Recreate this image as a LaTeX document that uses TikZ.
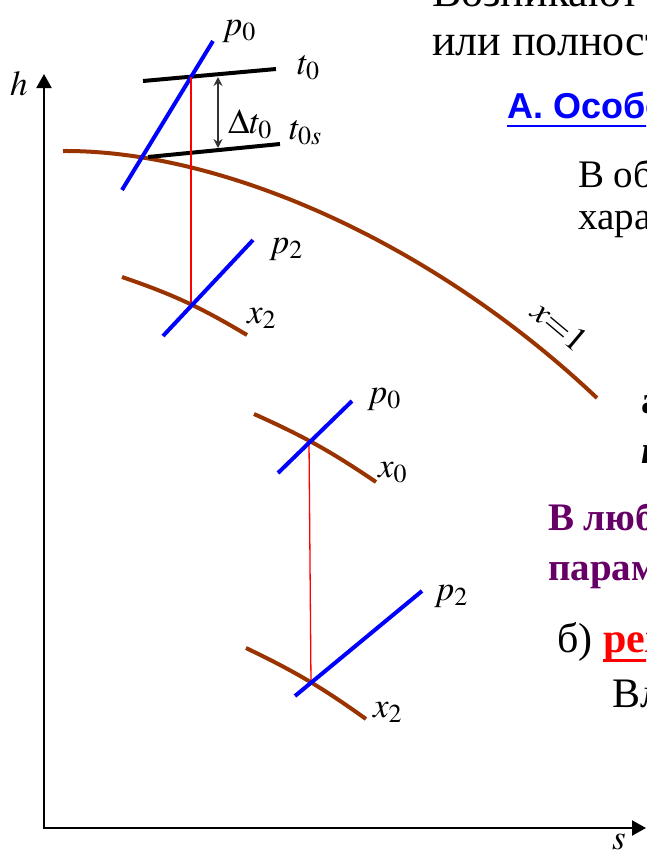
\documentclass[tikz,border=0pt]{standalone}
\usepackage{mathptmx}
\usepackage[no-math]{fontspec}
\setmainfont{Liberation Serif}
\newfontfamily\slidesans{Liberation Sans}
\usetikzlibrary{arrows.meta}
\definecolor{curvebrown}{HTML}{993300}
\definecolor{isobarblue}{HTML}{0000FF}
\definecolor{slidepurple}{HTML}{660066}
\definecolor{slidered}{HTML}{FF0000}

\begin{document}
\begin{tikzpicture}[
    x=1pt, y=-1pt,
    axisline/.style={
        line width=2pt,
        -{Triangle[length=14pt,width=15pt]}
    },
    isobar/.style={line width=4pt, isobarblue},
    quality/.style={line width=4pt, curvebrown},
    isotherm/.style={line width=4pt, black},
    drop/.style={line width=1.3pt, slidered},
    plotlabel/.style={
        inner sep=0pt,
        anchor=base west,
        font=\fontsize{35}{40}\selectfont
    },
    slidetext/.style={
        inner sep=0pt,
        anchor=base west,
        font=\fontsize{39}{44}\selectfont
    },
    slidebold/.style={
        slidetext,
        font=\fontsize{39}{44}\selectfont\bfseries
    }
]
    \useasboundingbox (0,0) rectangle (646,852);
    \clip (0,0) rectangle (646,852);

    % axes
    \coordinate (origin) at (44,829);
    \coordinate (hend) at (44,74);
    \coordinate (send) at (646,828);
    \draw[axisline] (origin) -- (hend);
    \draw[axisline] (43,828) -- (send);
    \node[plotlabel] (hlabel) at (10,95) {$h$};
    \node[plotlabel] (slabel) at (612,849) {$s$};

    % saturation line
    \coordinate (satstart) at (63,151);
    \coordinate (satend) at (597,398);
    \draw[quality] (satstart) .. controls (220,150) and (430,240) .. (satend);
    \node[font=\fontsize{35}{40}\selectfont, rotate=-40, inner sep=0pt]
        (xone) at (560,326) {$x{=}1$};

    % upper state
    \coordinate (t0a) at (143,81);
    \coordinate (t0b) at (276,69);
    \coordinate (t0sa) at (148,157);
    \coordinate (t0sb) at (280,144);
    \coordinate (p0a) at (122,190);
    \coordinate (p0b) at (213,41);
    \draw[isotherm] (t0a) -- (t0b);
    \draw[isotherm] (t0sa) -- (t0sb);
    \draw[isobar] (p0a) -- (p0b);
    \coordinate (dta) at (218,77);
    \coordinate (dtb) at (218,148);
    \draw[line width=1.4pt, black!80,
        {Stealth[length=9pt,width=9pt]}-{Stealth[length=9pt,width=9pt]}] (dta) -- (dtb);
    \node[plotlabel] (p0top) at (222,35) {$p_0$};
    \node[plotlabel] (t0label) at (297,74) {$t_0$};
    \node[plotlabel] (dtlabel) at (228,133) {$\Delta t_0$};
    \node[plotlabel] (t0slabel) at (289,139) {$t_{0s}$};

    % first expansion
    \coordinate (topstate) at (191,77);
    \coordinate (endone) at (191,304);
    \coordinate (xtwoa) at (122,277);
    \coordinate (xtwob) at (247,335);
    \coordinate (ptwoa) at (163,336);
    \coordinate (ptwob) at (253,240);
    \draw[drop] (topstate) -- (endone);
    \draw[quality] (xtwoa) to[bend left=6] (xtwob);
    \draw[isobar] (ptwoa) -- (ptwob);
    \node[plotlabel] (ptwolabel) at (269,253) {$p_2$};
    \node[plotlabel] (xtwolabel) at (247,323) {$x_2$};

    % second expansion
    \coordinate (startwet) at (309,441);
    \coordinate (endwet) at (311,683);
    \coordinate (xzeroa) at (254,414);
    \coordinate (xzerob) at (376,482);
    \coordinate (pzeroa) at (278,473);
    \coordinate (pzerob) at (352,401);
    \coordinate (xlowa) at (246,648);
    \coordinate (xlowb) at (366,719);
    \coordinate (plowa) at (295,696);
    \coordinate (plowb) at (422,591);
    \draw[drop] (startwet) -- (endwet);
    \draw[quality] (xzeroa) to[bend left=5] (xzerob);
    \draw[isobar] (pzeroa) -- (pzerob);
    \draw[quality] (xlowa) to[bend left=5] (xlowb);
    \draw[isobar] (plowa) -- (plowb);
    \node[plotlabel] (pzerolabel) at (367,403) {$p_0$};
    \node[plotlabel] (xzerolabel) at (378,477) {$x_0$};
    \node[plotlabel] (plowlabel) at (434,600) {$p_2$};
    \node[plotlabel] (xlowlabel) at (373,717) {$x_2$};

    % slide text cut by the right edge
    \node[slidetext, font=\fontsize{44}{50}\selectfont]
        (lineone) at (432,6) {Возникают};
    \node[slidetext, font=\fontsize{44}{50}\selectfont]
        (linetwo) at (432,55) {или полностью};
    \node[inner sep=0pt, anchor=base west, isobarblue,
        font=\fontsize{36}{40}\selectfont\slidesans\bfseries]
        (heada) at (507,118) {А. Особенности};
    \draw[isobarblue, line width=2.5pt]
        ([yshift=-8pt]heada.base west) -- ([yshift=-8pt]heada.base east);
    \node[slidetext] (obtext) at (578,187) {В общем};
    \node[slidetext] (khartext) at (578,229) {характер};
    \node[slidebold] (atext) at (641,413) {а)};
    \node[slidebold, font=\fontsize{39}{44}\selectfont\bfseries\itshape]
        (ptext) at (641,463) {п};
    \node[slidebold, slidepurple] (lubtext) at (548,530) {В любом};
    \node[slidebold, slidepurple] (paramtext) at (548,580) {параметры};
    \node[slidetext, font=\fontsize{42}{46}\selectfont] (btext) at (557,652) {б)};
    \node[slidebold, slidered, font=\fontsize{42}{46}\selectfont\bfseries]
        (retext) at (603,652) {режим};
    \draw[slidered, line width=3pt]
        ([yshift=-8pt]retext.base west) -- ([yshift=-8pt]retext.base east);
    \node[slidetext, font=\fontsize{42}{46}\selectfont] (vltext) at (612,707) {Влияние};
\end{tikzpicture}
\end{document}
